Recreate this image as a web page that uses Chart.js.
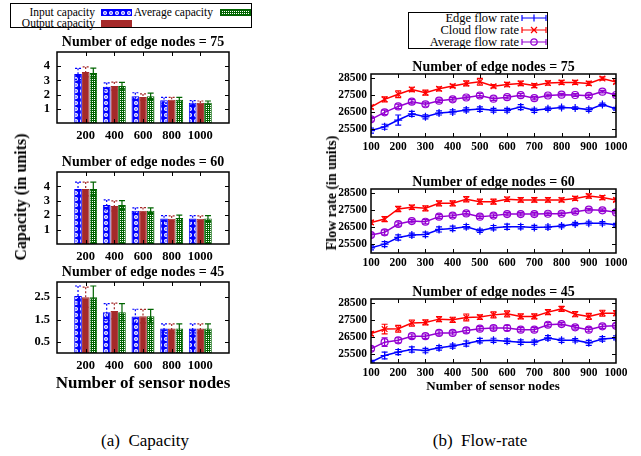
<!DOCTYPE html>
<html>
<head>
<meta charset="utf-8">
<script src="https://cdn.jsdelivr.net/npm/chart.js@4.4.0/dist/chart.umd.min.js"></script>
<style>
    body { margin: 0; background: #fff; font-family: 'Liberation Serif', 'Times New Roman', serif; color: #000; }
    #page { position: relative; width: 641px; height: 456px; overflow: hidden; }
    canvas { position: absolute; }
    .lbl { position: absolute; white-space: nowrap; }
    .b { font-weight: bold; }
    .rot { transform: translate(-50%, -50%) rotate(-90deg); }
    .ctr { transform: translate(-50%, -50%); }
    .box { position: absolute; border: 1px solid #000; box-sizing: border-box; }
    .sw { position: absolute; box-sizing: border-box; }
</style>
</head>
<body>
<div id="page">
    <!-- left legend -->
    <div class="box" style="left:10px;top:3px;width:242px;height:25px;"></div>
    <div class="lbl" style="left:10px;width:85px;top:6px;font-size:11.5px;line-height:12px;text-align:right;">Input capacity</div>
    <div class="lbl" style="left:10px;width:85px;top:17px;font-size:11.5px;line-height:12px;text-align:right;">Output capacity</div>
    <div class="lbl" style="left:120px;width:93px;top:6px;font-size:11.5px;line-height:12px;text-align:right;">Average capacity</div>
    <div class="sw" id="swIn" style="left:101px;top:9px;width:31px;height:7px;border:1px solid #0000ff;"></div>
    <div class="sw" id="swOut" style="left:101px;top:20px;width:31px;height:7px;background:#a52a2a;"></div>
    <div class="sw" id="swAvg" style="left:220px;top:9px;width:31px;height:7px;border:1px solid #006400;"></div>

    <!-- right legend -->
    <div class="box" style="left:408px;top:12px;width:140px;height:37px;"></div>
    <div class="lbl" style="left:408px;width:111px;top:12px;font-size:12.5px;line-height:13px;text-align:right;">Edge flow rate</div>
    <div class="lbl" style="left:408px;width:111px;top:24px;font-size:12.5px;line-height:13px;text-align:right;">Cloud flow rate</div>
    <div class="lbl" style="left:408px;width:111px;top:36px;font-size:12.5px;line-height:13px;text-align:right;">Average flow rate</div>
    <canvas id="lgEdge" width="28" height="10" style="left:520px;top:13px;"></canvas>
    <canvas id="lgCloud" width="28" height="10" style="left:520px;top:25px;"></canvas>
    <canvas id="lgAvg" width="28" height="10" style="left:520px;top:37px;"></canvas>

    <canvas id="cap75"></canvas>
    <canvas id="cap60"></canvas>
    <canvas id="cap45"></canvas>
    <canvas id="flow75"></canvas>
    <canvas id="flow60"></canvas>
    <canvas id="flow45"></canvas>

    <div class="lbl b rot" style="left:21px;top:197px;font-size:16px;">Capacity (in units)</div>
    <div class="lbl b rot" style="left:332px;top:193px;font-size:14px;">Flow rate (in units)</div>
    <div class="lbl b ctr" style="left:143px;top:383px;font-size:17px;">Number of sensor nodes</div>
    <div class="lbl b ctr" style="left:493px;top:386px;font-size:13px;">Number of sensor nodes</div>
    <div class="lbl ctr" style="left:145px;top:441px;font-size:17px;">(a)&nbsp;&nbsp;Capacity</div>
    <div class="lbl ctr" style="left:480px;top:441px;font-size:17px;">(b)&nbsp;&nbsp;Flow-rate</div>
</div>

<script>
// ============================================================
// Data
// ============================================================

var sensorBars = [200, 400, 600, 800, 1000];
var capTicksHigh = [1, 2, 3, 4];
var capTicksLow = [0.5, 1.5, 2.5];

// edge nodes = 75
var capIn75     = [3.45, 2.55, 1.88, 1.6, 1.42];
var capOut75    = [3.6, 2.6, 1.83, 1.63, 1.43];
var capAvg75    = [3.52, 2.6, 1.88, 1.63, 1.43];
var capInErr75  = [0.4, 0.28, 0.25, 0.2, 0.15];
var capOutErr75 = [0.35, 0.28, 0.22, 0.18, 0.12];
var capAvgErr75 = [0.35, 0.26, 0.22, 0.18, 0.12];

// edge nodes = 60
var capIn60     = [3.82, 2.71, 2.31, 1.77, 1.77];
var capOut60    = [3.82, 2.64, 2.31, 1.75, 1.75];
var capAvg60    = [3.82, 2.71, 2.31, 1.8, 1.77];
var capInErr60  = [0.48, 0.35, 0.2, 0.2, 0.2];
var capOutErr60 = [0.48, 0.35, 0.22, 0.2, 0.2];
var capAvgErr60 = [0.48, 0.3, 0.2, 0.2, 0.2];

// edge nodes = 45
var capIn45     = [2.55, 1.83, 1.63, 1.1, 1.1];
var capOut45    = [2.5, 1.88, 1.65, 1.1, 1.1];
var capAvg45    = [2.5, 1.83, 1.65, 1.1, 1.1];
var capInErr45  = [0.45, 0.38, 0.33, 0.2, 0.2];
var capOutErr45 = [0.45, 0.35, 0.3, 0.2, 0.2];
var capAvgErr45 = [0.5, 0.38, 0.3, 0.2, 0.2];

var sensorFlow = [100, 150, 200, 250, 300, 350, 400, 450, 500, 550, 600, 650, 700, 750, 800, 850, 900, 950, 1000];
var flowTicks = [25500, 26500, 27500, 28500];

var edge75  = [25380, 25610, 26010, 26380, 26200, 26430, 26490, 26610, 26660, 26590, 26590, 26780, 26590, 26680, 26760, 26720, 26630, 26930, 26680];
var cloud75 = [26780, 27240, 27545, 27830, 27640, 27870, 28040, 28190, 28290, 28020, 28120, 28190, 28060, 28210, 28250, 28250, 28190, 28480, 28270];
var avg75   = [26050, 26470, 26820, 27100, 26950, 27160, 27240, 27350, 27470, 27280, 27370, 27490, 27310, 27470, 27520, 27500, 27450, 27700, 27500];
var edgeErr75  = [150, 150, 300, 150, 120, 120, 120, 120, 130, 110, 110, 150, 120, 100, 80, 80, 110, 90, 80];
var cloudErr75 = [110, 150, 200, 130, 150, 120, 100, 150, 200, 100, 130, 130, 120, 130, 120, 120, 120, 100, 100];
var avgErr75   = [100, 130, 130, 130, 120, 100, 100, 100, 130, 100, 100, 100, 100, 80, 80, 80, 100, 80, 80];

var edge60  = [25300, 25520, 25910, 26050, 26090, 26380, 26440, 26540, 26300, 26480, 26540, 26540, 26500, 26520, 26580, 26700, 26750, 26740, 26660];
var cloud60 = [26790, 26990, 27580, 27680, 27620, 27910, 27910, 28150, 28010, 28010, 28150, 28110, 28110, 28110, 28110, 28200, 28340, 28250, 28110];
var avg60   = [26050, 26210, 26700, 26870, 26830, 27130, 27190, 27320, 27130, 27190, 27280, 27280, 27280, 27300, 27300, 27420, 27540, 27500, 27380];
var edgeErr60  = [120, 150, 150, 120, 130, 150, 130, 130, 100, 130, 150, 130, 120, 120, 100, 100, 110, 100, 80];
var cloudErr60 = [120, 150, 150, 120, 150, 150, 150, 150, 150, 150, 130, 130, 130, 130, 120, 120, 130, 120, 100];
var avgErr60   = [120, 150, 120, 100, 120, 120, 100, 100, 100, 100, 100, 100, 100, 100, 100, 100, 80, 80, 80];

var edge45  = [25050, 25440, 25640, 25790, 25730, 25890, 25990, 26140, 26310, 26330, 26280, 26220, 26220, 26470, 26330, 26330, 26180, 26410, 26470];
var cloud45 = [26720, 26990, 27010, 27340, 27380, 27570, 27530, 27670, 27690, 27820, 27880, 27730, 27730, 27980, 28170, 27860, 27730, 27920, 27920];
var avg45   = [25830, 26220, 26330, 26570, 26570, 26760, 26760, 26910, 27010, 27050, 27050, 26950, 26950, 27240, 27280, 27090, 26950, 27150, 27180];
var edgeErr45  = [100, 200, 150, 150, 130, 130, 120, 150, 130, 120, 130, 130, 120, 130, 120, 100, 150, 130, 120];
var cloudErr45 = [120, 280, 200, 180, 150, 150, 150, 200, 130, 180, 180, 150, 150, 150, 150, 150, 180, 170, 150];
var avgErr45   = [120, 250, 150, 130, 130, 130, 120, 150, 120, 120, 150, 120, 120, 120, 100, 100, 120, 120, 120];

// ============================================================
// Styling helpers
// ============================================================

var BLUE = '#0000ff', BROWN = '#a52a2a', GREEN = '#006400';
var RED = '#ff0000', VIOLET = '#9400d3';

Chart.defaults.font.family = "'Liberation Serif', 'Times New Roman', serif";
Chart.defaults.color = '#000';
Chart.defaults.animation = false;

function makeTile(kind) {
    var c = document.createElement('canvas');
    var g = c.getContext('2d');
    if (kind === 'circles') {
        c.width = 6; c.height = 6;
        g.fillStyle = BLUE; g.fillRect(0, 0, 6, 6);
        g.fillStyle = '#fff';
        g.beginPath(); g.arc(3, 3, 2, 0, Math.PI * 2); g.fill();
        g.fillStyle = BLUE;
        g.beginPath(); g.arc(3, 3, 0.8, 0, Math.PI * 2); g.fill();
    } else {
        c.width = 4; c.height = 4;
        g.fillStyle = GREEN; g.fillRect(0, 0, 4, 4);
        g.fillStyle = '#fff';
        g.fillRect(1, 1, 1, 1); g.fillRect(3, 3, 1, 1);
        g.fillRect(3, 1, 1, 1); g.fillRect(1, 3, 1, 1);
    }
    return c;
}

var tileIn = makeTile('circles');
var tileAvg = makeTile('checks');
var patCtx = document.createElement('canvas').getContext('2d');
var patIn = patCtx.createPattern(tileIn, 'repeat');
var patAvg = patCtx.createPattern(tileAvg, 'repeat');

document.getElementById('swIn').style.backgroundImage = 'url(' + tileIn.toDataURL() + ')';
document.getElementById('swAvg').style.backgroundImage = 'url(' + tileAvg.toDataURL() + ')';

// error bars drawn from each dataset's "errors" array
var errorBars = {
    id: 'errorBars',
    afterDatasetsDraw: function(chart) {
        var ctx = chart.ctx, ys = chart.scales.y, a = chart.chartArea;
        ctx.save();
        ctx.beginPath();
        ctx.rect(a.left, a.top, a.right - a.left, a.bottom - a.top);
        ctx.clip();
        chart.data.datasets.forEach(function(ds, i) {
            if (!ds.errors) return;
            var meta = chart.getDatasetMeta(i);
            ctx.strokeStyle = ds.errColor;
            ctx.lineWidth = 1.2;
            ctx.setLineDash(ds.errDash || []);
            meta.data.forEach(function(el, j) {
                var d = ds.data[j], e = ds.errors[j];
                var v = (d !== null && typeof d === 'object') ? d.y : d;
                if (v === null || v === undefined || e === null || e === undefined) return;
                var x = el.x, w = ds.capWidth || 3;
                var top = ys.getPixelForValue(v + e), bot = ys.getPixelForValue(v - e);
                ctx.beginPath();
                ctx.moveTo(x, top); ctx.lineTo(x, bot);
                ctx.moveTo(x - w, top); ctx.lineTo(x + w, top);
                ctx.moveTo(x - w, bot); ctx.lineTo(x + w, bot);
                ctx.stroke();
            });
        });
        ctx.restore();
    }
};

// gnuplot-like frame with inward ticks on all four sides
var frame = {
    id: 'frame',
    afterDraw: function(chart) {
        var a = chart.chartArea, ctx = chart.ctx, len = 4;
        var ys = chart.scales.y, xs = chart.scales.x;
        ctx.save();
        ctx.strokeStyle = '#000';
        ctx.lineWidth = 1;
        ctx.beginPath();
        ys.ticks.forEach(function(t, i) {
            var py = Math.round(ys.getPixelForTick(i)) + 0.5;
            ctx.moveTo(a.left, py); ctx.lineTo(a.left + len, py);
            ctx.moveTo(a.right, py); ctx.lineTo(a.right - len, py);
        });
        xs.ticks.forEach(function(t, i) {
            if (xs.type === 'category' && !t.label) return;
            var px = Math.round(xs.getPixelForTick(i)) + 0.5;
            if (px <= a.left + 1 || px >= a.right - 1) return;
            ctx.moveTo(px, a.bottom); ctx.lineTo(px, a.bottom - len);
            ctx.moveTo(px, a.top); ctx.lineTo(px, a.top + len);
        });
        ctx.stroke();
        ctx.lineWidth = 1.5;
        ctx.strokeRect(a.left, a.top, a.right - a.left, a.bottom - a.top);
        ctx.restore();
    }
};

function place(canvas, box) {
    canvas.width = box.w;
    canvas.height = box.h;
    canvas.style.left = box.x + 'px';
    canvas.style.top = box.y + 'px';
}

function baseOptions(geo, title, titlePad, tickSize, xPad, yPad) {
    return {
        responsive: false,
        devicePixelRatio: 1,
        layout: {
            padding: {
                left: 0,
                top: geo.plot.t - geo.box.y - geo.titleH,
                right: geo.box.x + geo.box.w - geo.plot.r,
                bottom: 0
            }
        },
        plugins: {
            legend: { display: false },
            tooltip: { enabled: false },
            title: {
                display: true,
                text: title,
                fullSize: false,
                color: '#000',
                font: { size: 14, weight: 'bold', lineHeight: 1 },
                padding: { top: titlePad, bottom: titlePad }
            }
        },
        scales: {
            x: {
                grid: { display: false, drawTicks: false },
                border: { display: false },
                ticks: { font: { size: tickSize, weight: 'bold' }, padding: xPad, autoSkip: false, maxRotation: 0, color: '#000' },
                afterFit: function(s) {
                    s.height = geo.box.y + geo.box.h - geo.plot.b;
                    s.paddingLeft = 0; s.paddingRight = 0;
                }
            },
            y: {
                grid: { display: false, drawTicks: false },
                border: { display: false },
                ticks: { font: { size: tickSize, weight: 'bold' }, padding: yPad, color: '#000',
                    callback: function(v) { return String(v); } },
                afterFit: function(s) {
                    s.width = geo.plot.l - geo.box.x;
                    s.paddingTop = 0; s.paddingBottom = 0;
                }
            }
        }
    };
}

// ============================================================
// Capacity (bar) charts
// ============================================================

function pad(arr) { return [null].concat(arr, [null]); }

function buildCapacityChart(id, geo, title, vals, errs, yMax, yTicks) {
    var canvas = document.getElementById(id);
    place(canvas, geo.box);
    var opts = baseOptions(geo, title, 3, 12.5, 5, 7);
    opts.scales.x.offset = false;
    opts.scales.y.min = 0;
    opts.scales.y.max = yMax;
    opts.scales.y.afterBuildTicks = function(s) {
        s.ticks = yTicks.map(function(v) { return { value: v }; });
    };
    return new Chart(canvas, {
        type: 'bar',
        data: {
            labels: [''].concat(sensorBars.map(String), ['']),
            datasets: [
                { label: 'Input capacity', data: pad(vals[0]), errors: pad(errs[0]),
                  backgroundColor: patIn, borderColor: BLUE, borderWidth: 1, borderSkipped: false,
                  errColor: BLUE, errDash: [2, 2] },
                { label: 'Output capacity', data: pad(vals[1]), errors: pad(errs[1]),
                  backgroundColor: BROWN, borderColor: BROWN, borderWidth: 1, borderSkipped: false,
                  errColor: BROWN, errDash: [2, 2] },
                { label: 'Average capacity', data: pad(vals[2]), errors: pad(errs[2]),
                  backgroundColor: patAvg, borderColor: GREEN, borderWidth: 1, borderSkipped: false,
                  errColor: GREEN }
            ]
        },
        options: Object.assign(opts, {
            datasets: { bar: { categoryPercentage: 0.8, barPercentage: 1.0 } }
        }),
        plugins: [errorBars, frame]
    });
}

buildCapacityChart('cap75',
    { box: { x: 25, y: 28, w: 212, h: 122 }, plot: { l: 57, t: 52, r: 229, b: 123 }, titleH: 20 },
    'Number of edge nodes = 75',
    [capIn75, capOut75, capAvg75], [capInErr75, capOutErr75, capAvgErr75], 5, capTicksHigh);

buildCapacityChart('cap60',
    { box: { x: 25, y: 148, w: 212, h: 122 }, plot: { l: 57, t: 172, r: 229, b: 244 }, titleH: 20 },
    'Number of edge nodes = 60',
    [capIn60, capOut60, capAvg60], [capInErr60, capOutErr60, capAvgErr60], 5, capTicksHigh);

buildCapacityChart('cap45',
    { box: { x: 25, y: 258, w: 212, h: 117 }, plot: { l: 57, t: 282, r: 229, b: 353 }, titleH: 20 },
    'Number of edge nodes = 45',
    [capIn45, capOut45, capAvg45], [capInErr45, capOutErr45, capAvgErr45], 3.18, capTicksLow);

// ============================================================
// Flow-rate (line) charts
// ============================================================

function points(vals) {
    return sensorFlow.map(function(x, i) { return { x: x, y: vals[i] }; });
}

function lineSet(label, vals, errs, color, style, radius) {
    return {
        label: label, data: points(vals), errors: errs, errColor: color,
        borderColor: color, backgroundColor: 'rgba(0,0,0,0)', borderWidth: 1.5,
        pointStyle: style, pointRadius: radius, pointBorderColor: color,
        pointBorderWidth: 1.2, pointBackgroundColor: 'rgba(0,0,0,0)', tension: 0, capWidth: 3
    };
}

function buildFlowChart(id, geo, title, edge, cloud, avg, eErr, cErr, aErr) {
    var canvas = document.getElementById(id);
    place(canvas, geo.box);
    var opts = baseOptions(geo, title, 0, 11.5, 3, 4);
    opts.scales.x.type = 'linear';
    opts.scales.x.min = 100;
    opts.scales.x.max = 1000;
    opts.scales.x.ticks.stepSize = 100;
    opts.scales.x.ticks.callback = function(v) { return String(v); };
    opts.scales.y.min = 25000;
    opts.scales.y.max = 28750;
    opts.scales.y.afterBuildTicks = function(s) {
        s.ticks = flowTicks.map(function(v) { return { value: v }; });
    };
    return new Chart(canvas, {
        type: 'line',
        data: {
            datasets: [
                lineSet('Edge flow rate', edge, eErr, BLUE, 'cross', 4),
                lineSet('Cloud flow rate', cloud, cErr, RED, 'crossRot', 4),
                lineSet('Average flow rate', avg, aErr, VIOLET, 'circle', 3.5)
            ]
        },
        options: opts,
        plugins: [errorBars, frame]
    });
}

buildFlowChart('flow75',
    { box: { x: 330, y: 55, w: 302, h: 100 }, plot: { l: 371, t: 74, r: 616, b: 137 }, titleH: 14 },
    'Number of edge nodes = 75', edge75, cloud75, avg75, edgeErr75, cloudErr75, avgErr75);

buildFlowChart('flow60',
    { box: { x: 330, y: 170, w: 302, h: 100 }, plot: { l: 371, t: 189, r: 616, b: 253 }, titleH: 14 },
    'Number of edge nodes = 60', edge60, cloud60, avg60, edgeErr60, cloudErr60, avgErr60);

buildFlowChart('flow45',
    { box: { x: 330, y: 280, w: 302, h: 100 }, plot: { l: 371, t: 299, r: 616, b: 363 }, titleH: 14 },
    'Number of edge nodes = 45', edge45, cloud45, avg45, edgeErr45, cloudErr45, avgErr45);

// ============================================================
// Legend samples for the flow-rate lines
// ============================================================

function drawSample(id, color, marker) {
    var g = document.getElementById(id).getContext('2d');
    g.strokeStyle = color;
    g.lineWidth = 1.2;
    g.beginPath();
    g.moveTo(2, 5); g.lineTo(26, 5);
    g.moveTo(2, 2); g.lineTo(2, 8);
    g.moveTo(26, 2); g.lineTo(26, 8);
    if (marker === 'plus') {
        g.moveTo(14, 1.5); g.lineTo(14, 8.5);
    } else if (marker === 'x') {
        g.moveTo(11, 2); g.lineTo(17, 8);
        g.moveTo(17, 2); g.lineTo(11, 8);
    }
    g.stroke();
    if (marker === 'circle') {
        g.beginPath(); g.arc(14, 5, 3.2, 0, Math.PI * 2); g.stroke();
    }
}

drawSample('lgEdge', BLUE, 'plus');
drawSample('lgCloud', RED, 'x');
drawSample('lgAvg', VIOLET, 'circle');
</script>
</body>
</html>
